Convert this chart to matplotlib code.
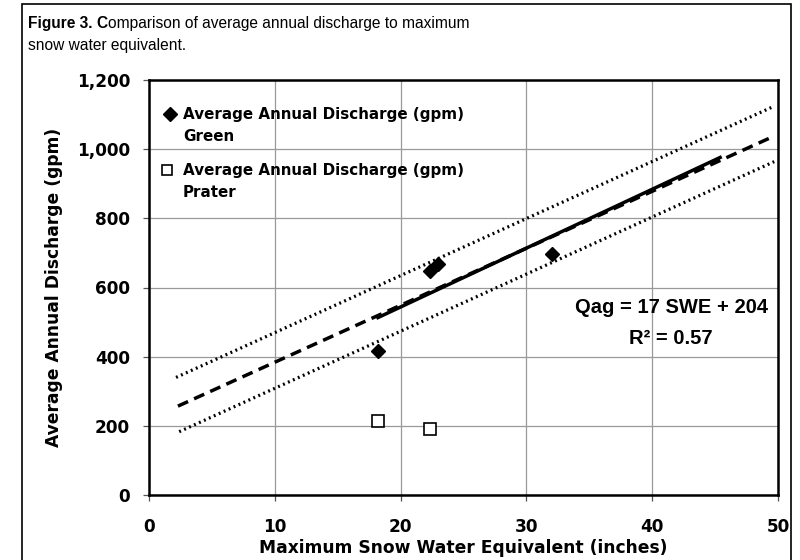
import matplotlib
matplotlib.use("Agg")
import matplotlib.pyplot as plt
from matplotlib.patches import Rectangle

# values
green_swe = [18.2, 22.3, 23.0, 32.0]
green_q = [415, 648, 668, 697]
prater_swe = [18.2, 22.3]
prater_q = [215, 190]

trend_swe = [18.2, 45.4]
trend_q = [513, 976]
fit_swe = [2.3, 49.7]
fit_q = [257, 1038]
upper_swe = [2.15, 49.5]
upper_q = [340, 1121]
lower_swe = [2.4, 49.7]
lower_q = [183, 964]

x_ticks = [0, 10, 20, 30, 40, 50]
y_ticks = [0, 200, 400, 600, 800, 1000, 1200]
y_tick_labels = ['0', '200', '400', '600', '800', '1,000', '1,200']

legend_labels = [('Average Annual Discharge (gpm)', 'Green'),
                 ('Average Annual Discharge (gpm)', 'Prater')]

bold_font = 'DejaVu Sans'
plain_font = 'Liberation Sans'

fig = plt.figure(figsize=(8, 5.6), dpi=100)
fig.patches.append(Rectangle((22 / 800, -0.1), 769 / 800, 1.1 - 4 / 560,
                             transform=fig.transFigure, fill=False,
                             edgecolor='black', linewidth=1.2))

ax = fig.add_axes([149 / 800, 65 / 560, 629 / 800, 415 / 560])

ax.plot(upper_swe, upper_q, color='black', linestyle=(0, (0.6, 1.1)), linewidth=2.3)
ax.plot(lower_swe, lower_q, color='black', linestyle=(0, (0.6, 1.1)), linewidth=2.3)
ax.plot(fit_swe, fit_q, color='black', linestyle=(0, (3.2, 1.9)), linewidth=2.5)
ax.plot(trend_swe, trend_q, color='black', linestyle='-', linewidth=2.5)

ax.plot(green_swe, green_q, linestyle='none', marker='D', markersize=7.5,
        color='black', zorder=5)
ax.plot(prater_swe, prater_q, linestyle='none', marker='s', markersize=8,
        markerfacecolor='white', markeredgecolor='black', markeredgewidth=1.2,
        zorder=5)

ax.set_xlim(0, 50)
ax.set_ylim(0, 1200)
ax.set_xticks(x_ticks)
ax.set_yticks(y_ticks)
ax.set_yticklabels(y_tick_labels)
ax.grid(True, color='#999999', linewidth=0.9)
ax.set_axisbelow(True)
for s in ax.spines.values():
    s.set_linewidth(1.8)
ax.tick_params(axis='both', direction='out', length=4.5, width=0.9,
               color='#555555')
ax.tick_params(axis='y', pad=9)
ax.tick_params(axis='x', pad=12)
for lab in ax.get_xticklabels() + ax.get_yticklabels():
    lab.set_fontfamily(bold_font)
    lab.set_fontweight('bold')
    lab.set_fontsize(12.2)

ax.set_xlabel('Maximum Snow Water Equivalent (inches)', family=bold_font,
              weight='bold', fontsize=12.3, labelpad=2)
ax.set_ylabel('Average Annual Discharge (gpm)', family=bold_font,
              weight='bold', fontsize=12.3, labelpad=10)

# legend drawn by hand so the marker sits on the first line of each label
ax.plot([0.033], [0.918], transform=ax.transAxes, marker='D', markersize=7.5,
        color='black', clip_on=False)
ax.plot([0.029], [0.783], transform=ax.transAxes, marker='s', markersize=7.5,
        markerfacecolor='white', markeredgecolor='black', markeredgewidth=1.2,
        clip_on=False)
for (l1, l2), y1, y2 in zip(legend_labels, [0.918, 0.783], [0.863, 0.730]):
    ax.text(0.054, y1, l1, transform=ax.transAxes, family=bold_font,
            weight='bold', fontsize=10.9, va='center', ha='left')
    ax.text(0.054, y2, l2, transform=ax.transAxes, family=bold_font,
            weight='bold', fontsize=10.9, va='center', ha='left')

ax.text(0.830, 0.451, 'Qag = 17 SWE + 204', transform=ax.transAxes,
        family=plain_font, weight='bold', fontsize=14.5, ha='center', va='center')
ax.text(0.830, 0.378, 'R\u00b2 = 0.57', transform=ax.transAxes,
        family=plain_font, weight='bold', fontsize=14.5, ha='center', va='center')

# title, with "Figure 3." and the "C" in bold
t1 = fig.text(28 / 800, 1 - 28.3 / 560, 'Figure 3. ', family=plain_font,
              weight='bold', fontsize=11.2, va='baseline')
t2 = ax.annotate('C', xy=(1, 0), xycoords=t1, va='bottom', ha='left',
                 family=plain_font, weight='bold', fontsize=11.2,
                 annotation_clip=False)
ax.annotate('omparison of average annual discharge to maximum', xy=(1, 0),
            xycoords=t2, va='bottom', ha='left', family=plain_font,
            fontsize=11.2, annotation_clip=False)
fig.text(28 / 800, 1 - 50 / 560, 'snow water equivalent.', family=plain_font,
         fontsize=11.2, va='baseline')

fig.savefig('out.png', dpi=100)
